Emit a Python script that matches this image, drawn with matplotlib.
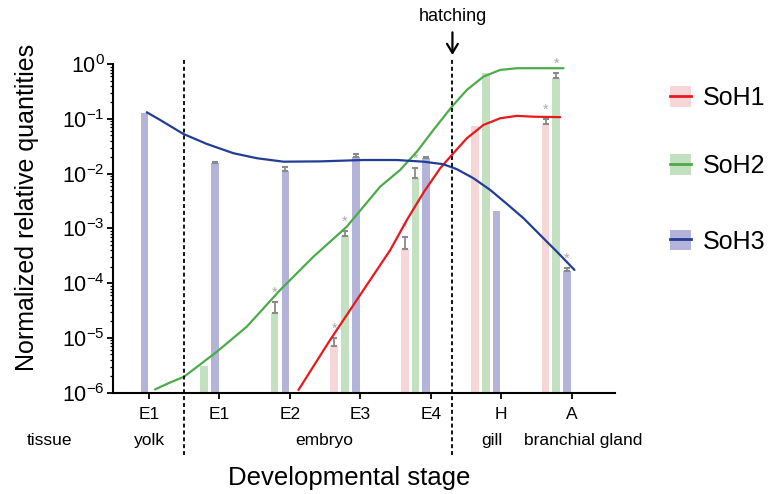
import numpy as np
import matplotlib
matplotlib.use('Agg')
import matplotlib.pyplot as plt
from matplotlib.patches import Patch
from matplotlib.lines import Line2D
from matplotlib.legend_handler import HandlerTuple

plt.rcParams['font.family'] = ['Liberation Sans', 'DejaVu Sans']
plt.rcParams['mathtext.fontset'] = 'custom'
plt.rcParams['mathtext.rm'] = 'Liberation Sans'

nan = np.nan
stages = ['E1', 'E1', 'E2', 'E3', 'E4', 'H', 'A']
tissues = ['tissue', 'yolk', 'embryo', 'gill', 'branchial gland']
tissue_x = [-1.41, 0.0, 2.49, 4.87, 6.17]

# bar heights (relative quantities)
soh1 = [nan, nan, nan, 7.1e-6, 4.3e-4, 0.075, 0.081]
soh2 = [nan, 3.1e-6, 2.8e-5, 7.4e-4, 8.5e-3, 0.70, 0.56]
soh3 = [0.13, 0.0159, 0.0112, 0.0205, 0.0192, 2.1e-3, 1.67e-4]
# top of the error bars
soh1_err = [nan, nan, nan, 1.0e-5, 7.1e-4, nan, 0.099]
soh2_err = [nan, nan, 4.5e-5, 9.1e-4, 1.26e-2, nan, 0.685]
soh3_err = [nan, 0.0166, 0.01345, 0.023, 0.0203, nan, 1.92e-4]
# significance stars
soh1_star = [0, 0, 0, 1, 1, 0, 1]
soh2_star = [0, 0, 1, 1, 1, 0, 1]
soh3_star = [0, 0, 0, 0, 0, 0, 1]

# trend curves (stage position, value)
soh1_cx = [2.121, 2.571, 3.044, 3.423, 3.661, 3.896, 4.134, 4.322, 4.513, 4.749, 4.986, 5.223, 5.459, 5.838]
soh1_cy = [1.12e-6, 9.2e-6, 7.5e-5, 4.0e-4, 1.43e-3, 4.5e-3, 0.0126, 0.0237, 0.0445, 0.0778, 0.103,
           0.114, 0.110, 0.108]
soh2_cx = [0.085, 0.28, 0.497, 0.962, 1.388, 1.861, 2.334, 2.808, 3.281, 3.565, 3.803, 4.038, 4.300,
           4.513, 4.749, 4.986, 5.223, 5.554, 5.885]
soh2_cy = [1.15e-6, 1.5e-6, 1.96e-6, 5.6e-6, 1.61e-5, 7.5e-5, 3.05e-4, 1.08e-3, 5.8e-3, 0.0117, 0.0253,
           0.063, 0.168, 0.340, 0.594, 0.787, 0.845, 0.845, 0.845]
soh3_cx = [-0.033, 0.156, 0.487, 0.820, 1.197, 1.530, 1.908, 2.429, 3.040, 3.518, 3.896, 4.180, 4.371,
           4.607, 4.844, 5.081, 5.317, 5.554, 5.791, 6.041]
soh3_cy = [0.1327, 0.0962, 0.0533, 0.0350, 0.0237, 0.0192, 0.0166, 0.0168, 0.0178, 0.0178, 0.0166,
           0.0149, 0.0121, 0.00826, 0.00506, 0.00281, 0.00154, 7.6e-4, 3.77e-4, 1.75e-4]

bar_cols = ['#f6d6d7', '#c3e0c1', '#b4b4da']
line_cols = ['#e8191d', '#4cab4a', '#213d96']
names = ['SoH1', 'SoH2', 'SoH3']

fig = plt.figure(figsize=(7.71, 4.94), dpi=100)
ax = fig.add_axes([0.147, 0.205, 0.651, 0.665])
ax.set_yscale('log')

x = np.arange(len(stages))
offsets = [-0.37, -0.217, -0.064]
width = 0.109
series = [(soh1, soh1_err, soh1_star), (soh2, soh2_err, soh2_star), (soh3, soh3_err, soh3_star)]
for i, (vals, errs, stars) in enumerate(series):
    vals = np.array(vals)
    errs = np.array(errs)
    xs = x + offsets[i]
    ax.bar(xs, vals, width=width, color=bar_cols[i], zorder=2)
    ok = ~np.isnan(errs)
    ax.errorbar(xs[ok], vals[ok], yerr=[np.zeros(ok.sum()), errs[ok] - vals[ok]],
                fmt='none', ecolor='#8a8a8a', elinewidth=1.3, capsize=2.2, capthick=1.5, zorder=3)
    for j in range(len(stages)):
        if stars[j]:
            ax.annotate('*', (xs[j], errs[j]), xytext=(0, 1.5), textcoords='offset points',
                        ha='center', va='bottom', fontsize=10.5, color='#aaaaaa', zorder=3)

curves = [(soh1_cx, soh1_cy), (soh2_cx, soh2_cy), (soh3_cx, soh3_cy)]
for i, (cx, cy) in enumerate(curves):
    ax.plot(cx, cy, color=line_cols[i], lw=1.6, zorder=4, solid_capstyle='round',
            solid_joinstyle='round')

ax.set_ylim(1e-6, 1)
ax.set_xlim(-0.507, 6.62)
ax.set_xticks(x)
ax.set_xticklabels(stages, fontsize=12.5)
ax.tick_params(axis='x', direction='out', length=4, width=1.3, pad=6)
ax.tick_params(axis='y', which='major', direction='out', length=4, width=1.3, labelsize=15.5, pad=2)
ax.tick_params(axis='y', which='minor', direction='out', length=2, width=0.9)
for s in ['top', 'right']:
    ax.spines[s].set_visible(False)
for s in ['left', 'bottom']:
    ax.spines[s].set_linewidth(1.5)

for xd in [0.497, 4.308]:
    ax.axvline(xd, ymin=-0.19, ymax=1.02, clip_on=False, color='k', lw=1.3,
               ls=(0, (2.2, 1.6)), zorder=5)

for t, tx in zip(tissues, tissue_x):
    ax.text(tx, -0.144, t, transform=ax.get_xaxis_transform(), ha='center', va='center',
            fontsize=12.5, clip_on=False)

ax.annotate('hatching', xy=(4.308, 1.028), xycoords=('data', 'axes fraction'),
            xytext=(4.308, 1.144), textcoords=('data', 'axes fraction'),
            ha='center', va='center', fontsize=13,
            arrowprops=dict(arrowstyle='->,head_length=0.5,head_width=0.3', lw=1.6,
                            color='k', shrinkA=3, shrinkB=0))

ax.set_xlabel('Developmental stage', fontsize=18.5)
ax.xaxis.set_label_coords(0.47, -0.26)
ax.xaxis.label.set_va('center')
ax.set_ylabel('Normalized relative quantities', fontsize=18)
ax.yaxis.set_label_coords(-0.172, 0.564)
ax.yaxis.label.set_va('center')

legend_y = [0.801, 0.664, 0.511]
for i in range(3):
    h = (Patch(facecolor=bar_cols[i], edgecolor='none'),
         Line2D([0], [0], color=line_cols[i], lw=2))
    fig.legend([h], [names[i]], handler_map={tuple: HandlerTuple(ndivide=1, pad=0)},
               loc='center left', bbox_to_anchor=(0.869, legend_y[i]), frameon=False,
               fontsize=18, borderpad=0, borderaxespad=0, handlelength=0.84,
               handleheight=0.88, handletextpad=0.48)

fig.savefig('out.png', dpi=100)
